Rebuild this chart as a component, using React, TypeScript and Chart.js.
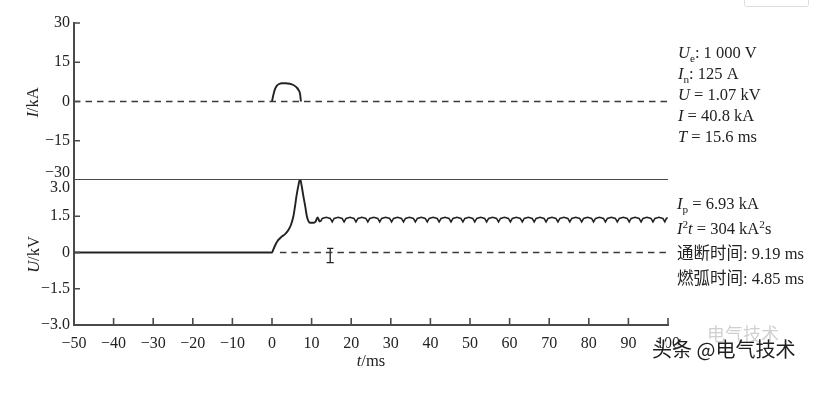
import React, { useEffect, useRef } from 'react';
import { Chart, registerables } from 'chart.js';

Chart.register(...registerables);

const SERIF = '"Liberation Serif", "Times New Roman", "Noto Sans CJK SC", serif';
const CJK = '"Noto Sans CJK SC", sans-serif';
const INK = '#222222';
const AXIS = '#4a4a4a';

// ---------- axis ticks ----------
const xTickValues = [-50, -40, -30, -20, -10, 0, 10, 20, 30, 40, 50, 60, 70, 80, 90, 100];
const xTickLabels = ['−50', '−40', '−30', '−20', '−10', '0', '10', '20', '30', '40', '50', '60', '70', '80', '90', '100'];
const iTickValues = [-30, -15, 0, 15, 30];
const iTickLabels = ['−30', '−15', '0', '15', '30'];
const uTickValues = [-3, -1.5, 0, 1.5, 3];
const uTickLabels = ['−3.0', '−1.5', '0', '1.5', '3.0'];

// ---------- current (kA) ----------
const currentT = [0, 0.2, 0.5, 0.8, 1.2, 1.8, 2.5, 3.4, 4.5, 5.4, 6.2, 6.7, 7.1, 7.3];
const currentV = [0, 1.5, 3.4, 4.9, 6.0, 6.7, 7.0, 7.0, 6.8, 6.3, 5.4, 4.4, 2.8, 0];
const zeroIT = [-50, 100];
const zeroIV = [0, 0];
const dividerT = [-50, 100];
const dividerV = [-30, -30];

// ---------- voltage (kV) ----------
const voltT = [-50, 0, 0.4, 0.9, 1.5, 2.4, 3.3, 4.1, 4.8, 5.4, 5.8, 6.2, 6.7, 7.1, 7.5, 7.9, 8.4, 8.8, 9.2, 9.6, 10.3, 11.0, 11.5, 11.9, 12.2];
const voltV = [0, 0, 0.15, 0.33, 0.5, 0.65, 0.76, 0.92, 1.15, 1.5, 1.9, 2.35, 2.8, 3.05, 2.75, 2.35, 1.9, 1.5, 1.3, 1.23, 1.23, 1.28, 1.45, 1.32, 1.27];

const rippleT = [
  12.2, 12.7, 13.7, 14.7,
  15.2, 15.7, 16.7, 17.7,
  18.2, 18.7, 19.7, 20.7,
  21.2, 21.7, 22.7, 23.7,
  24.2, 24.7, 25.7, 26.7,
  27.2, 27.7, 28.7, 29.7,
  30.2, 30.7, 31.7, 32.7,
  33.2, 33.7, 34.7, 35.7,
  36.2, 36.7, 37.7, 38.7,
  39.2, 39.7, 40.7, 41.7,
  42.2, 42.7, 43.7, 44.7,
  45.2, 45.7, 46.7, 47.7,
  48.2, 48.7, 49.7, 50.7,
  51.2, 51.7, 52.7, 53.7,
  54.2, 54.7, 55.7, 56.7,
  57.2, 57.7, 58.7, 59.7,
  60.2, 60.7, 61.7, 62.7,
  63.2, 63.7, 64.7, 65.7,
  66.2, 66.7, 67.7, 68.7,
  69.2, 69.7, 70.7, 71.7,
  72.2, 72.7, 73.7, 74.7,
  75.2, 75.7, 76.7, 77.7,
  78.2, 78.7, 79.7, 80.7,
  81.2, 81.7, 82.7, 83.7,
  84.2, 84.7, 85.7, 86.7,
  87.2, 87.7, 88.7, 89.7,
  90.2, 90.7, 91.7, 92.7,
  93.2, 93.7, 94.7, 95.7,
  96.2, 96.7, 97.7, 98.7,
  99.2, 99.6, 99.9,
];
const rippleV = [
  1.27, 1.41, 1.46, 1.41,
  1.27, 1.41, 1.46, 1.41,
  1.27, 1.41, 1.46, 1.41,
  1.27, 1.41, 1.46, 1.41,
  1.27, 1.41, 1.46, 1.41,
  1.27, 1.41, 1.46, 1.41,
  1.27, 1.41, 1.46, 1.41,
  1.27, 1.41, 1.46, 1.41,
  1.27, 1.41, 1.46, 1.41,
  1.27, 1.41, 1.46, 1.41,
  1.27, 1.41, 1.46, 1.41,
  1.27, 1.41, 1.46, 1.41,
  1.27, 1.41, 1.46, 1.41,
  1.27, 1.41, 1.46, 1.41,
  1.27, 1.41, 1.46, 1.41,
  1.27, 1.41, 1.46, 1.41,
  1.27, 1.41, 1.46, 1.41,
  1.27, 1.41, 1.46, 1.41,
  1.27, 1.41, 1.46, 1.41,
  1.27, 1.41, 1.46, 1.41,
  1.27, 1.41, 1.46, 1.41,
  1.27, 1.41, 1.46, 1.41,
  1.27, 1.41, 1.46, 1.41,
  1.27, 1.41, 1.46, 1.41,
  1.27, 1.41, 1.46, 1.41,
  1.27, 1.41, 1.46, 1.41,
  1.27, 1.41, 1.46, 1.41,
  1.27, 1.41, 1.46, 1.41,
  1.27, 1.41, 1.46, 1.41,
  1.27, 1.41, 1.44,
];
const zeroUT = [2, 100];
const zeroUV = [0, 0];
// "I"-shaped marker
const markerT = [13.9, 15.5, null, 14.7, 14.7, null, 13.8, 15.6];
const markerV = [0.17, 0.17, null, 0.17, -0.42, null, -0.42, -0.42];

// ---------- annotation text ----------
type Run = { t: string; it?: boolean; sub?: boolean; sup?: boolean };
const infoTop: Run[][] = [
  [{ t: 'U', it: true }, { t: 'e', sub: true }, { t: ': 1 000 V' }],
  [{ t: 'I', it: true }, { t: 'n', sub: true }, { t: ': 125 A' }],
  [{ t: 'U', it: true }, { t: ' = 1.07 kV' }],
  [{ t: 'I', it: true }, { t: ' = 40.8 kA' }],
  [{ t: 'T', it: true }, { t: ' = 15.6 ms' }],
];
const infoBottom: Run[][] = [
  [{ t: 'I', it: true }, { t: 'p', sub: true }, { t: ' = 6.93 kA' }],
  [{ t: 'I', it: true }, { t: '2', sup: true }, { t: 't', it: true }, { t: ' = 304 kA' }, { t: '2', sup: true }, { t: 's' }],
  [{ t: '通断时间: 9.19 ms' }],
  [{ t: '燃弧时间: 4.85 ms' }],
];
const titleI: Run[] = [{ t: 'I', it: true }, { t: '/kA' }];
const titleU: Run[] = [{ t: 'U', it: true }, { t: '/kV' }];
const titleT: Run[] = [{ t: 't', it: true }, { t: '/ms' }];
const watermark = '头条 @电气技术';
const watermarkGhost = '电气技术';

const pts = (ts: (number | null)[], vs: (number | null)[]) =>
  ts.map((t, i) => ({ x: t as number, y: vs[i] as number }));

function runsWidth(ctx: CanvasRenderingContext2D, runs: Run[], size: number) {
  let w = 0;
  for (const r of runs) {
    const s = r.sub || r.sup ? size * 0.68 : size;
    ctx.font = `${r.it ? 'italic ' : ''}${s}px ${SERIF}`;
    w += ctx.measureText(r.t).width;
  }
  return w;
}

function drawRuns(ctx: CanvasRenderingContext2D, x: number, baseline: number, runs: Run[], size: number) {
  let cx = x;
  for (const r of runs) {
    const s = r.sub || r.sup ? size * 0.68 : size;
    ctx.font = `${r.it ? 'italic ' : ''}${s}px ${SERIF}`;
    const dy = r.sub ? size * 0.22 : r.sup ? -size * 0.38 : 0;
    ctx.fillText(r.t, cx, baseline + dy);
    cx += ctx.measureText(r.t).width;
  }
}

const overlayPlugin = {
  id: 'overlay',
  afterDraw(chart: any) {
    const ctx: CanvasRenderingContext2D = chart.ctx;
    const xs = chart.scales.x;
    const yI = chart.scales.yI;
    const yU = chart.scales.yU;
    const area = chart.chartArea;
    ctx.save();

    // inward tick marks
    ctx.strokeStyle = AXIS;
    ctx.lineWidth = 1.6;
    ctx.beginPath();
    for (const v of xTickValues) {
      if (v === -50) continue;
      const px = xs.getPixelForValue(v);
      ctx.moveTo(px, area.bottom);
      ctx.lineTo(px, area.bottom - 7);
    }
    for (const v of iTickValues) {
      if (v === -30) continue;
      const py = yI.getPixelForValue(v);
      ctx.moveTo(area.left, py);
      ctx.lineTo(area.left + 6, py);
    }
    for (const v of uTickValues) {
      if (v === 3 || v === -3) continue;
      const py = yU.getPixelForValue(v);
      ctx.moveTo(area.left, py);
      ctx.lineTo(area.left + 6, py);
    }
    ctx.stroke();

    // the two crowded tick labels at the panel boundary
    ctx.fillStyle = INK;
    ctx.font = `16px ${SERIF}`;
    ctx.textAlign = 'right';
    ctx.textBaseline = 'middle';
    ctx.fillText(iTickLabels[0], area.left - 4, yI.getPixelForValue(-30) - 7);
    ctx.fillText(uTickLabels[4], area.left - 4, yU.getPixelForValue(3) + 8);

    // axis titles
    ctx.textAlign = 'left';
    ctx.textBaseline = 'alphabetic';
    const drawRotated = (runs: Run[], cx: number, cy: number) => {
      ctx.save();
      ctx.translate(cx, cy);
      ctx.rotate(-Math.PI / 2);
      const w = runsWidth(ctx, runs, 16.5);
      drawRuns(ctx, -w / 2, 5.5, runs, 16.5);
      ctx.restore();
    };
    drawRotated(titleI, 32, yI.getPixelForValue(0) + 1);
    drawRotated(titleU, 33, yU.getPixelForValue(0) + 2);
    {
      const w = runsWidth(ctx, titleT, 16.5);
      drawRuns(ctx, (area.left + area.right) / 2 - w / 2, 366, titleT, 16.5);
    }

    // annotations
    infoTop.forEach((runs, i) => drawRuns(ctx, 678, 58 + i * 21, runs, 16.5));
    infoBottom.forEach((runs, i) => drawRuns(ctx, 677, 209 + i * 25, runs, 16.5));

    // watermark
    ctx.font = `18px ${CJK}`;
    ctx.fillStyle = 'rgba(150,150,150,0.45)';
    ctx.fillText(watermarkGhost, 707, 341);
    ctx.font = `20px ${CJK}`;
    ctx.fillStyle = 'rgba(255,255,255,0.9)';
    ctx.fillText(watermark, 654, 359);
    ctx.fillStyle = '#1e1e1e';
    ctx.fillText(watermark, 652, 357);

    // faint box at the top right
    ctx.strokeStyle = '#dddddd';
    ctx.lineWidth = 1;
    ctx.beginPath();
    ctx.roundRect(744.5, -4, 64, 10.5, 2);
    ctx.stroke();

    ctx.restore();
  },
};

export default function App() {
  const ref = useRef<HTMLCanvasElement | null>(null);

  useEffect(() => {
    if (!ref.current) return;
    const line = {
      borderColor: INK,
      borderWidth: 1.9,
      pointRadius: 0,
      fill: false,
    };
    const chart = new Chart(ref.current, {
      type: 'line',
      data: {
        datasets: [
          { ...line, data: pts(zeroIT, zeroIV), yAxisID: 'yI', borderDash: [6.5, 5], borderWidth: 1.7, borderColor: '#3a3a3a' },
          { ...line, data: pts(dividerT, dividerV), yAxisID: 'yI', borderColor: AXIS, borderWidth: 2 },
          { ...line, data: pts(currentT, currentV), yAxisID: 'yI', cubicInterpolationMode: 'monotone' },
          { ...line, data: pts(zeroUT, zeroUV), yAxisID: 'yU', borderDash: [6.5, 5], borderWidth: 1.7, borderColor: '#3a3a3a' },
          { ...line, data: pts(voltT, voltV), yAxisID: 'yU', cubicInterpolationMode: 'monotone' },
          { ...line, data: pts(rippleT, rippleV), yAxisID: 'yU', tension: 0, borderWidth: 1.6 },
          { ...line, data: pts(markerT, markerV), yAxisID: 'yU', tension: 0, borderWidth: 1.3, spanGaps: false },
        ] as any,
      },
      options: {
        responsive: false,
        animation: false,
        events: [],
        parsing: false as any,
        normalized: true,
        layout: { padding: { left: 0, right: 160, top: 23, bottom: 0 } },
        plugins: { legend: { display: false }, tooltip: { enabled: false }, title: { display: false } },
        scales: {
          x: {
            type: 'linear',
            min: -50,
            max: 100,
            afterBuildTicks: (s: any) => { s.ticks = xTickValues.map((v) => ({ value: v })); },
            afterFit: (s: any) => { s.height = 70; },
            grid: { display: false, drawTicks: false },
            border: { display: true, color: AXIS, width: 2 },
            ticks: {
              autoSkip: false,
              maxRotation: 0,
              padding: 9,
              color: INK,
              font: { family: SERIF, size: 16 },
              callback: (_v: any, i: number) => xTickLabels[i],
            },
          },
          yU: {
            type: 'linear',
            position: 'left',
            stack: 'panels',
            stackWeight: 145,
            weight: 1,
            min: -3,
            max: 3,
            afterBuildTicks: (s: any) => { s.ticks = uTickValues.map((v) => ({ value: v })); },
            afterFit: (s: any) => { s.width = 74; },
            grid: { display: false, drawTicks: false },
            border: { display: true, color: AXIS, width: 2 },
            ticks: {
              autoSkip: false,
              padding: 4,
              color: INK,
              font: { family: SERIF, size: 16 },
              callback: (v: any, i: number) => (v === 3 ? '' : uTickLabels[i]),
            },
          },
          yI: {
            type: 'linear',
            position: 'left',
            stack: 'panels',
            stackWeight: 157,
            weight: 2,
            min: -30,
            max: 30,
            afterBuildTicks: (s: any) => { s.ticks = iTickValues.map((v) => ({ value: v })); },
            afterFit: (s: any) => { s.width = 74; },
            grid: { display: false, drawTicks: false },
            border: { display: true, color: AXIS, width: 2 },
            ticks: {
              autoSkip: false,
              padding: 4,
              color: INK,
              font: { family: SERIF, size: 16 },
              callback: (v: any, i: number) => (v === -30 ? '' : iTickLabels[i]),
            },
          },
        } as any,
      },
      plugins: [overlayPlugin],
    });
    return () => chart.destroy();
  }, []);

  return (
    <div style={{ position: 'fixed', left: 0, top: 0, width: 828, height: 395, background: '#fff' }}>
      <canvas ref={ref} width={828} height={395} style={{ display: 'block', width: 828, height: 395 }} />
    </div>
  );
}
